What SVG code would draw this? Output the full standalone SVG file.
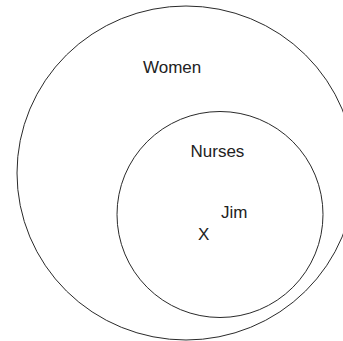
<svg xmlns="http://www.w3.org/2000/svg" width="343" height="341" viewBox="0 0 343 341">
<style>
.set{fill:none;stroke:#2a2a2a;stroke-width:1}
.lbl{font-family:"Liberation Sans",Arial,sans-serif;font-size:17px;fill:#222}
</style>
<rect width="343" height="341" fill="#fff"/>
<g id="women">
<ellipse class="set" cx="186" cy="173" rx="169" ry="167"/>
<text class="lbl" x="143" y="73">Women</text>
</g>
<g id="nurses">
<circle class="set" cx="220" cy="214.5" r="103"/>
<text class="lbl" x="190.5" y="157">Nurses</text>
</g>
<g id="jim">
<text class="lbl" x="221" y="218">Jim</text>
<text class="lbl" x="198" y="240">X</text>
</g>
<g id="connectors"/>
</svg>
